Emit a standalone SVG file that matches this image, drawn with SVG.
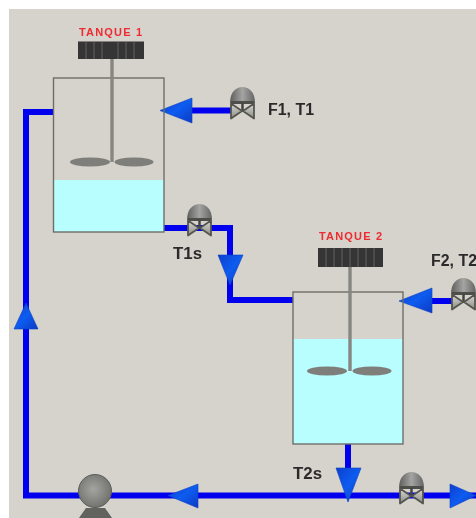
<svg xmlns="http://www.w3.org/2000/svg" width="476" height="518" viewBox="0 0 476 518">
<style>
.pipe{fill:none;stroke:#0404ee;stroke-width:6;stroke-linejoin:miter}
.arrow{fill:url(#ag);stroke:#0a3fc4;stroke-width:.6}
.tank{fill:none;stroke:#6e6e68;stroke-width:1.4}
.water{fill:#b9feff}
.shaft{stroke:#868682;stroke-width:3.4;fill:none}
.blade{fill:#7e7e7a}
.tl{font:bold 11px "Liberation Sans",Arial,sans-serif;fill:#ee2a30}
.lb{font:bold 16px "Liberation Sans",Arial,sans-serif;fill:#2c2c2c}
.motor{fill:#343434}
.rib{stroke:#5c5c5c;stroke-width:1.2}
</style>
<defs>
<filter id="s" x="-5%" y="-5%" width="110%" height="110%"><feGaussianBlur stdDeviation="0.6"/></filter>
<linearGradient id="ag" x1="0" y1="0" x2="1" y2="1"><stop offset="0" stop-color="#0a3fd0"/><stop offset=".5" stop-color="#0b5cf0"/><stop offset="1" stop-color="#0a3ac4"/></linearGradient>
<linearGradient id="vg" x1="0" y1="0" x2="1" y2="0"><stop offset="0" stop-color="#5e5e5e"/><stop offset=".5" stop-color="#a4a4a2"/><stop offset="1" stop-color="#646464"/></linearGradient>
<linearGradient id="tg" x1="0" y1="0" x2="0" y2="1"><stop offset="0" stop-color="#d8d8d2"/><stop offset="1" stop-color="#8c8c86"/></linearGradient>
<radialGradient id="pg" cx=".45" cy=".45" r=".6"><stop offset="0" stop-color="#a4a4a0"/><stop offset="1" stop-color="#6e6e6a"/></radialGradient>
<g id="valve">
<path d="M1 16C1 5 7 0 13.500 0S26 5 26 16Z" fill="url(#vg)"/>
<rect x="2" y="14" width="23" height="3" fill="#4e4e4a"/>
<path d="M13.500 16V24" stroke="#444440" stroke-width="2.500"/>
<path d="M2 16.500L13 24L2 31.500ZM25 16.500L14 24L25 31.500Z" fill="url(#tg)" stroke="#55554f" stroke-width="1.800" stroke-linejoin="round"/>
</g>
</defs>
<rect x="0" y="0" width="476" height="518" fill="#fff"/>
<rect x="9" y="9" width="467" height="509" fill="#d6d2cc"/>
<g filter="url(#s)">
<g id="connectors">
<path class="pipe" d="M53 112H26V495.500H476"/>
<path class="pipe" d="M192 110.500H231"/>
<path class="pipe" d="M164 228H230V300H293"/>
<path class="pipe" d="M430 301H452"/>
<path class="pipe" d="M348 444V475"/>
<path class="arrow" d="M160 110.500L192 98V123Z"/>
<path class="arrow" d="M26 303L38 329H14Z"/>
<path class="arrow" d="M230 285L218 255H243Z"/>
<path class="arrow" d="M399 301L432 288V313Z"/>
<path class="arrow" d="M348 502L336 468H361Z"/>
<path class="arrow" d="M168 495.500L198 484V508Z"/>
<path class="arrow" d="M476 495.500L450 484V508Z"/>
</g>
<g id="tanque1">
<rect class="water" x="53" y="180" width="111" height="52"/>
<rect class="tank" x="53.500" y="78" width="110.500" height="154"/>
<path class="shaft" d="M112 58V162"/>
<ellipse class="blade" cx="90" cy="162" rx="20" ry="4.500"/>
<ellipse class="blade" cx="134" cy="162" rx="19.500" ry="4.500"/>
<rect class="motor" x="78" y="41.500" width="66" height="17.500"/>
<path class="rib" d="M86 42V59M94 42V59M102 42V59M118 42V59M126 42V59M134 42V59"/>
<text class="tl" x="79" y="36" textLength="63" lengthAdjust="spacing">TANQUE 1</text>
</g>
<g id="tanque2">
<rect class="water" x="293" y="339" width="110" height="105"/>
<rect class="tank" x="293" y="292" width="110" height="152"/>
<path class="shaft" d="M350 267V371"/>
<ellipse class="blade" cx="327" cy="371" rx="20" ry="4.500"/>
<ellipse class="blade" cx="372" cy="371" rx="19.500" ry="4.500"/>
<rect class="motor" x="318" y="248" width="65" height="19"/>
<path class="rib" d="M326 248V267M334 248V267M342 248V267M350 248V267M358 248V267M366 248V267M374 248V267"/>
<text class="tl" x="319" y="240" textLength="63" lengthAdjust="spacing">TANQUE 2</text>
</g>
<use id="valve-f1" href="#valve" x="229" y="87"/>
<use id="valve-t1s" href="#valve" x="186" y="204"/>
<use id="valve-f2" href="#valve" x="450" y="278"/>
<use id="valve-t2s" href="#valve" x="398" y="472"/>
<g id="bomba">
<path d="M79 518L86 508H105L112 518Z" fill="#62625e"/>
<circle cx="95" cy="491" r="16.500" fill="url(#pg)" stroke="#5c5c58"/>
</g>
<g id="labels">
<text class="lb" x="268" y="115" textLength="46" lengthAdjust="spacingAndGlyphs">F1, T1</text>
<text class="lb" x="173" y="259" textLength="29" lengthAdjust="spacingAndGlyphs">T1s</text>
<text class="lb" x="431" y="266" textLength="46" lengthAdjust="spacingAndGlyphs">F2, T2</text>
<text class="lb" x="293" y="479" textLength="29" lengthAdjust="spacingAndGlyphs">T2s</text>
</g>
</g>
</svg>
